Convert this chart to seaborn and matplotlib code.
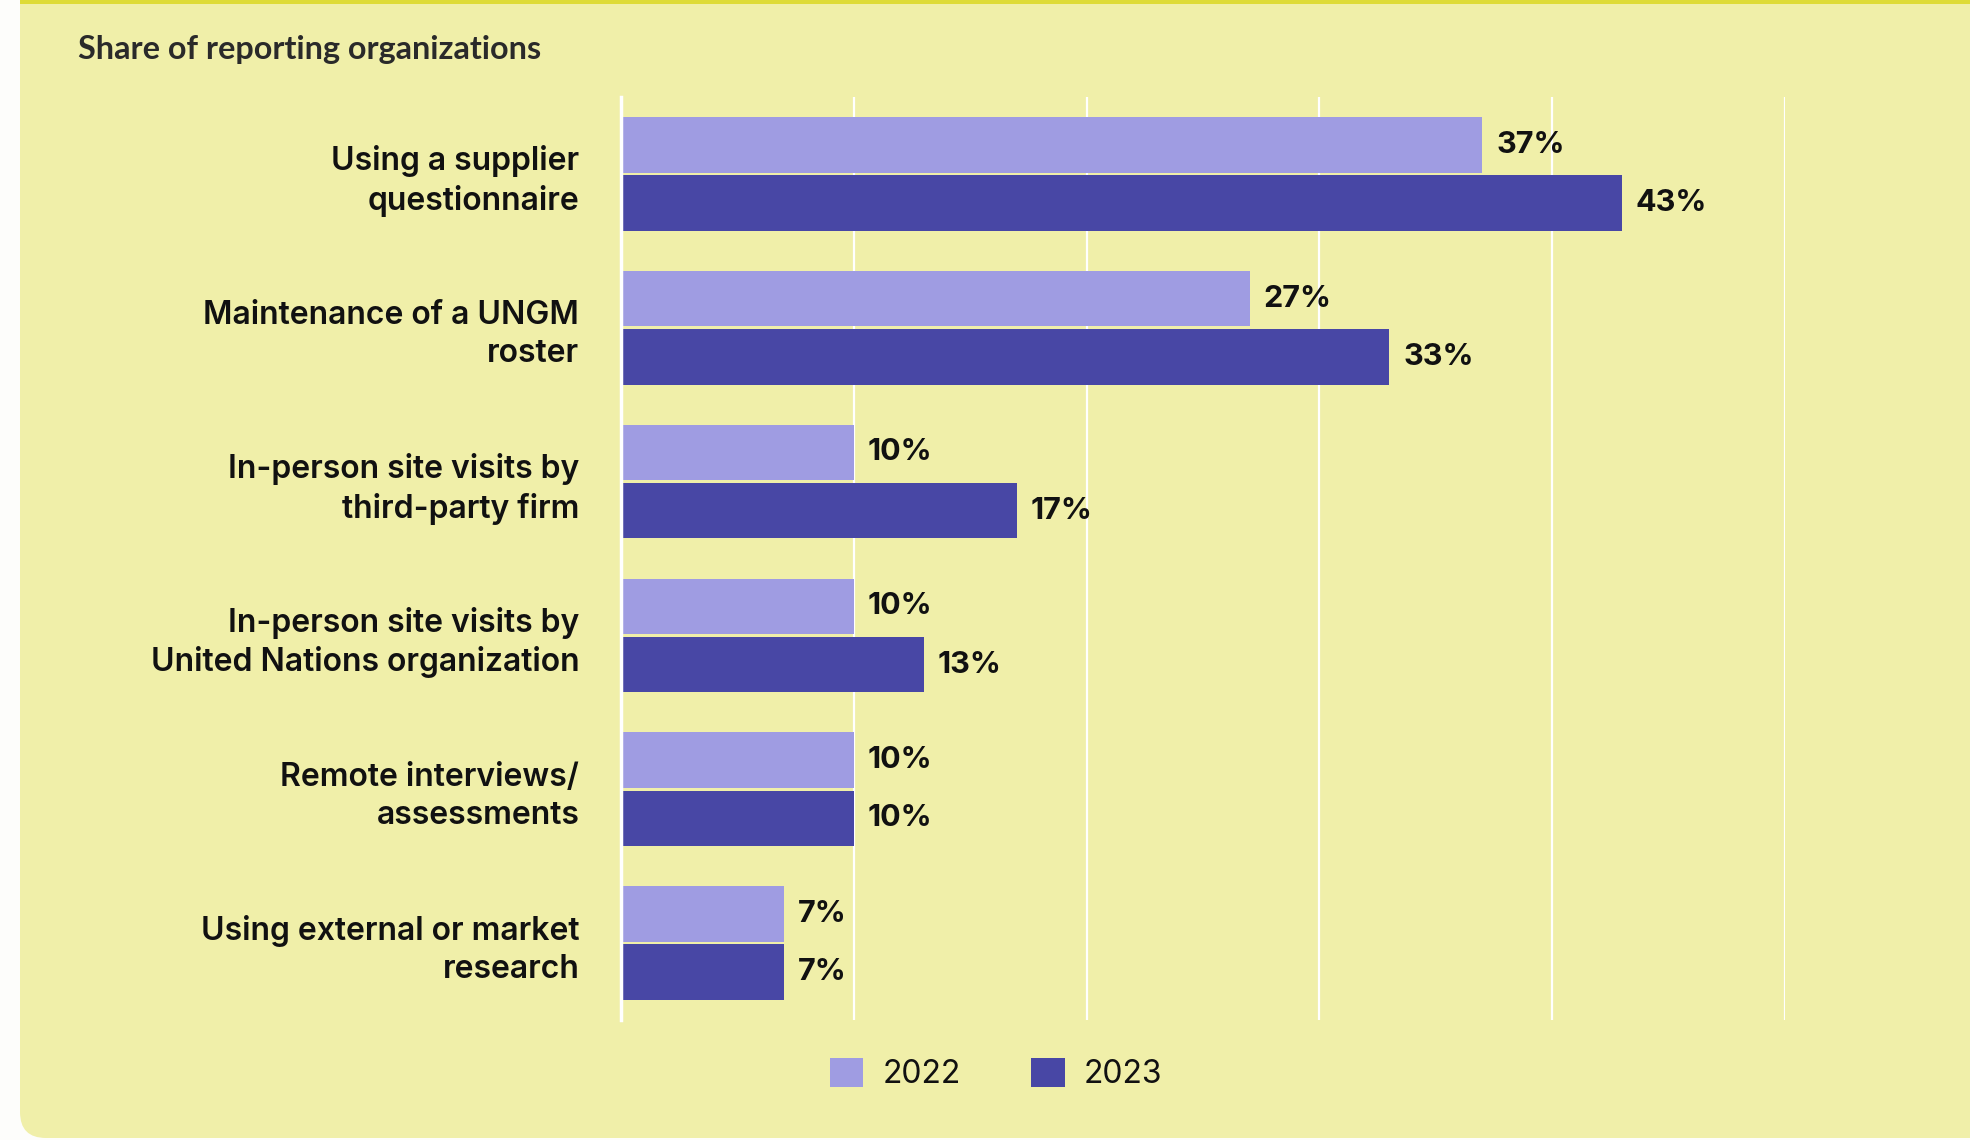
import pandas as pd
import seaborn as sns
import matplotlib.pyplot as plt
from matplotlib.patches import FancyBboxPatch, Rectangle, Patch
from matplotlib.transforms import IdentityTransform

# Dados do gráfico
categories = [
    "Using a supplier\nquestionnaire",
    "Maintenance of a UNGM\nroster",
    "In-person site visits by\nthird-party firm",
    "In-person site visits by\nUnited Nations organization",
    "Remote interviews/\nassessments",
    "Using external or market\nresearch",
]
years = ["2022", "2023"]
share_2022 = [37, 27, 10, 10, 10, 7]
share_2023 = [43, 33, 17, 13, 10, 7]
colors = ["#9f9ce2", "#4847a5"]

df = pd.DataFrame({
    "category": categories * 2,
    "year": [years[0]] * len(categories) + [years[1]] * len(categories),
    "share": share_2022 + share_2023,
})

sns.set_theme(style="white")
plt.rcParams["font.family"] = ["Inter", "DejaVu Sans"]

W, H = 1970, 1140
fig = plt.figure(figsize=(W / 100, H / 100), dpi=100)
fig.patch.set_facecolor("#fdfdfb")

# Painel de fundo amarelo com canto arredondado
panel = FancyBboxPatch((20, 2), 2100, 1300, boxstyle="round,pad=0,rounding_size=26",
                       transform=IdentityTransform(), facecolor="#f0efa9",
                       edgecolor="none", zorder=0)
fig.patches.append(panel)
fig.patches.append(Rectangle((20, H - 4), W, 4, transform=IdentityTransform(),
                             facecolor="#dedb38", edgecolor="none", zorder=1))

ax = fig.add_axes([621 / W, 1 - 1020 / H, (1785 - 621) / W, (1020 - 97) / H])
ax.set_facecolor("none")
ax.set_zorder(3)

sns.barplot(data=df, x="share", y="category", hue="year", orient="h",
            palette=colors, width=0.757, gap=0.045, legend=False, ax=ax,
            saturation=1, linewidth=0)

for cont in ax.containers:
    ax.bar_label(cont, fmt="%d%%", padding=10, fontsize=22, fontweight="bold",
                 color="#111111")

ax.set_xlim(0, 50)
ax.set_ylim(5.5, -0.5)
ax.set_xticks(range(0, 51, 10))
ax.grid(axis="x", color="white", linewidth=1.6)
ax.set_axisbelow(True)
ax.tick_params(axis="x", length=0, labelbottom=False)
ax.tick_params(axis="y", length=0, pad=30, labelsize=23, labelcolor="#111111")
for lab in ax.get_yticklabels():
    lab.set_fontweight("semibold")
    lab.set_linespacing(1.3)
for s in ["top", "right", "bottom"]:
    ax.spines[s].set_visible(False)
ax.spines["left"].set_color("white")
ax.spines["left"].set_linewidth(2.5)
ax.set_xlabel("")
ax.set_ylabel("")

fig.text(78 / W, 1 - 50 / H, "Share of reporting organizations", fontsize=23.3,
         fontweight="bold", color="#2a2a2a", va="center", ha="left",
         family=["Lato", "DejaVu Sans"], zorder=4)

handles = [Patch(facecolor=c, edgecolor="none", label=y) for c, y in zip(colors, years)]
leg = fig.legend(handles=handles, loc="center", bbox_to_anchor=(996 / W, 1 - 1074 / H),
                 ncol=2, frameon=False, fontsize=23, handlelength=1.05, handleheight=1.05,
                 handletextpad=0.6, columnspacing=2.2, labelcolor="#111111")
leg.set_zorder(4)

fig.savefig("out.png", dpi=100, facecolor=fig.get_facecolor())
